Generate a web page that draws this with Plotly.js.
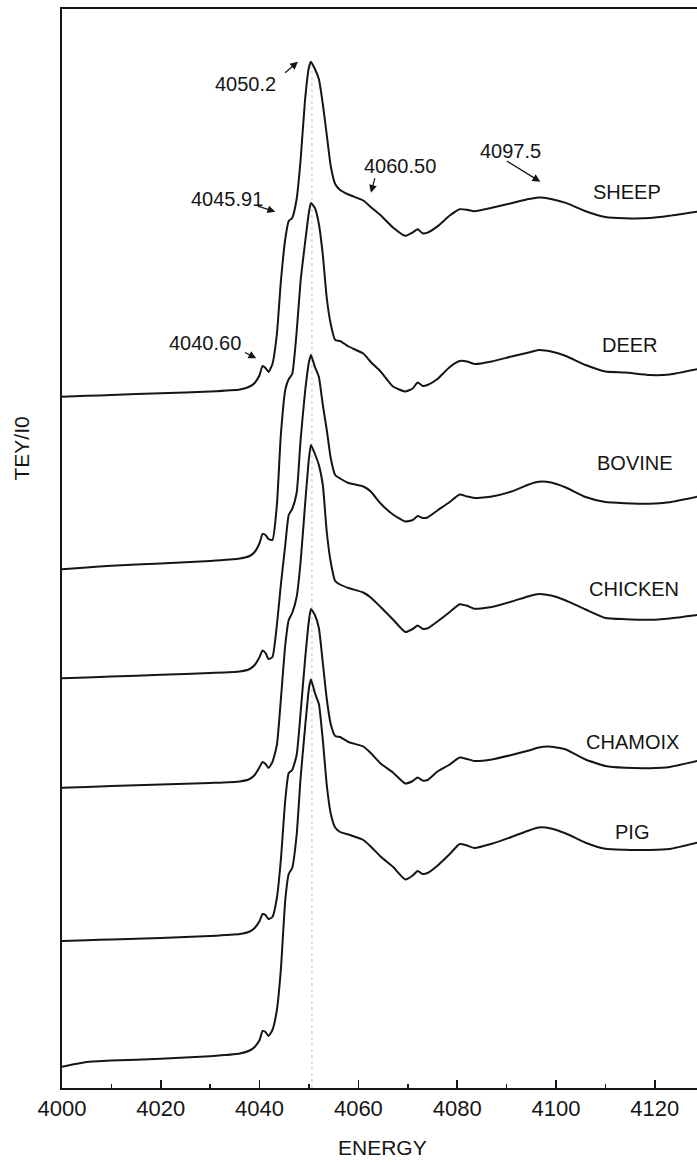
<!DOCTYPE html>
<html>
<head>
<meta charset="utf-8">
<script src="https://cdn.plot.ly/plotly-3.0.1.min.js"></script>
<style>html,body{margin:0;padding:0;background:#fff;}#chart{width:697px;height:1162px;}</style>
</head>
<body>
<div id="chart"></div>
<script>
// Shared energy grid (eV)
const energy = [4000, 4005, 4010, 4020, 4030, 4036, 4038, 4039, 4040, 4040.6, 4041.2, 4041.8, 4042.6, 4043.5, 4044.3, 4045.2, 4045.9, 4046.6, 4047.5, 4048.3, 4049.2, 4050.0, 4050.4, 4051.2, 4052.0, 4052.8, 4053.6, 4054.4, 4055.3, 4056.3, 4058, 4061, 4062.5, 4064.5, 4067, 4069.5, 4071, 4072, 4073, 4074, 4076, 4078.5, 4080.5, 4082, 4083.5, 4087, 4091, 4094.5, 4096.5, 4099, 4102, 4106, 4110, 4114, 4119, 4123, 4128.6];

// TEY/I0 (offset, arbitrary units)
const sheep = [691.3, 692.2, 693, 694.8, 696.5, 698.5, 701.5, 705, 713, 722, 720, 716, 724, 754, 806, 849, 867, 870, 889, 928, 988, 1021, 1026.3, 1019, 1009, 984, 953, 922, 904, 898, 893.5, 887.5, 881, 872.7, 860.5, 852.2, 855.7, 858.7, 854.7, 855.4, 861.6, 872.5, 878.8, 878.2, 876.8, 880.2, 884.8, 888.9, 890.5, 889.1, 885.1, 876.8, 871, 869.7, 869.9, 872.2, 876.3];
const deer = [518.7, 520.5, 522.3, 524.5, 527, 529.5, 532, 536, 545, 554, 553, 549, 548, 583, 653, 698, 709, 714, 756, 807, 845, 876, 885, 880, 864, 833, 790, 764, 748, 747, 741.5, 734.5, 726, 716.5, 701.5, 696.5, 699.5, 705.5, 702, 703, 709, 721, 727, 726.5, 724, 726.5, 731.5, 735.5, 738, 736.5, 732, 723, 716.5, 715.5, 713, 713.5, 718.7];
const bovine = [409.7, 410.6, 411.5, 413.2, 415, 416.5, 419, 423, 431, 437.5, 435, 429, 431, 463, 503, 543, 573, 579, 595, 648, 696, 726, 733, 721, 711, 683, 658, 630, 613, 609.5, 605, 601.5, 596.5, 584.5, 573.5, 566.5, 568, 572, 570, 570.5, 577.5, 586, 593.5, 591.5, 590, 591.5, 596.5, 603.5, 606.2, 605.5, 600.5, 591, 586, 584.8, 584.2, 585.8, 591.3];
const chicken = [300.3, 301.1, 302, 303.5, 305, 306.5, 309, 313, 321, 326, 324, 320, 326, 343, 388, 443, 468, 475, 491, 526, 583, 630, 643, 634, 623, 603, 556, 526, 507, 503.5, 500, 495.5, 490.5, 481, 468.5, 456, 459, 462.5, 459.3, 459.7, 466.5, 476, 483.7, 482.2, 479.2, 481, 486.5, 491.8, 494, 492.5, 487.5, 478.5, 470, 468.8, 468.2, 469.5, 473];
const chamoix = [147, 147.8, 148.5, 150, 152, 154, 156.5, 160, 167, 174, 173, 169, 171, 190, 228, 288, 315, 318, 333, 375, 428, 468, 479, 473, 460, 425, 389, 364, 352, 351, 346, 341.5, 335, 324.5, 315.5, 304.5, 307, 310.5, 307.5, 308, 316.5, 323.5, 330.5, 329, 327, 328.5, 333, 337.5, 340.5, 341.3, 338.5, 328.5, 322, 320.2, 319.8, 321, 327];
const pig = [21.3, 26, 27.5, 29.2, 31.8, 34.5, 37.5, 41, 48, 57, 56, 52, 58, 78, 118, 188, 214, 220, 253, 310, 360, 400, 408.5, 395, 384, 348, 303, 274.5, 260.5, 256, 253.5, 248, 241.5, 231.5, 221.2, 208.5, 212.5, 217, 214, 215, 222.3, 234, 244, 242.5, 240, 244.2, 251, 257.5, 260.5, 259.5, 254.5, 245.3, 239.2, 238.3, 238, 239, 245.3];

const seriesNames = ['SHEEP', 'DEER', 'BOVINE', 'CHICKEN', 'CHAMOIX', 'PIG'];
const seriesData = [sheep, deer, bovine, chicken, chamoix, pig];

const FONT = 'Liberation Sans, Arial, Helvetica, sans-serif';
const INK = '#151515';

const traces = seriesData.map((ys, i) => ({
  x: energy, y: ys, name: seriesNames[i], type: 'scatter', mode: 'lines',
  line: {color: INK, width: 2, shape: 'spline', smoothing: 0.5}, hoverinfo: 'skip'
}));

const nameLabels = [
  {text: 'SHEEP', x: 4114.4, y: 896.3},
  {text: 'DEER', x: 4115.0, y: 743},
  {text: 'BOVINE', x: 4116.0, y: 624.7},
  {text: 'CHICKEN', x: 4115.7, y: 499},
  {text: 'CHAMOIX', x: 4115.4, y: 346.3},
  {text: 'PIG', x: 4115.4, y: 256.3}
];
const peakLabels = [
  {text: '4050.2', x: 4037.1, y: 1004},
  {text: '4045.91', x: 4033.5, y: 888.7},
  {text: '4040.60', x: 4029.0, y: 745.3},
  {text: '4060.50', x: 4068.5, y: 922.3},
  {text: '4097.5', x: 4090.75, y: 937.3}
];
const arrows = [
  {x: 4047.77, y: 1026.3, ax: 4044.86, ay: 1014},
  {x: 4043.18, y: 876.3, ax: 4039.33, ay: 882.3},
  {x: 4039.33, y: 729.7, ax: 4036.76, ay: 736.3},
  {x: 4062.55, y: 895.3, ax: 4063.42, ay: 911.3},
  {x: 4096.82, y: 906.3, ax: 4089.74, ay: 928}
];

const annotations = [];
nameLabels.concat(peakLabels).forEach(l => annotations.push({
  text: l.text, x: l.x, y: l.y, xref: 'x', yref: 'y', showarrow: false,
  xanchor: 'center', yanchor: 'middle', font: {family: FONT, size: 20, color: INK}
}));
arrows.forEach(a => annotations.push({
  text: '', x: a.x, y: a.y, ax: a.ax, ay: a.ay, xref: 'x', yref: 'y', axref: 'x', ayref: 'y',
  showarrow: true, arrowhead: 2, arrowsize: 1.3, arrowwidth: 1.2, arrowcolor: INK, standoff: 0, startstandoff: 0
}));
annotations.push({
  text: 'ENERGY', xref: 'paper', yref: 'paper', x: 0.5051, y: -0.0556,
  xanchor: 'center', yanchor: 'middle', showarrow: false, font: {family: FONT, size: 21, color: INK}
});
annotations.push({
  text: 'TEY/I0', xref: 'paper', yref: 'paper', x: -0.0639, y: 0.5931, textangle: -90,
  xanchor: 'center', yanchor: 'middle', showarrow: false, font: {family: FONT, size: 21, color: INK}
});

const layout = {
  width: 697, height: 1162,
  margin: {l: 62, r: 0, t: 9, b: 74},
  paper_bgcolor: '#fff', plot_bgcolor: '#fff',
  showlegend: false,
  font: {family: FONT, color: INK},
  xaxis: {
    range: [4000, 4128.55], tick0: 4000, dtick: 20, ticks: 'inside', ticklen: 8, tickwidth: 1.5,
    tickcolor: INK, showline: true, linewidth: 1.8, linecolor: INK, mirror: true,
    showgrid: false, zeroline: false, tickfont: {family: FONT, size: 22, color: INK},
    minor: {dtick: 10, ticks: 'inside', ticklen: 4, tickwidth: 1.5, tickcolor: INK, showgrid: false}
  },
  yaxis: {
    range: [0, 1079], showline: true, linewidth: 1.8, linecolor: INK, ticks: '',
    showticklabels: false, showgrid: false, zeroline: false
  },
  shapes: [{
    type: 'line', xref: 'x', yref: 'y', x0: 4050.6, x1: 4050.6, y0: 0, y1: 1026,
    line: {color: '#c4c4c4', width: 1, dash: 'dot'}, layer: 'below'
  }],
  annotations: annotations
};

Plotly.newPlot('chart', traces, layout, {staticPlot: true, displayModeBar: false});
</script>
</body>
</html>
